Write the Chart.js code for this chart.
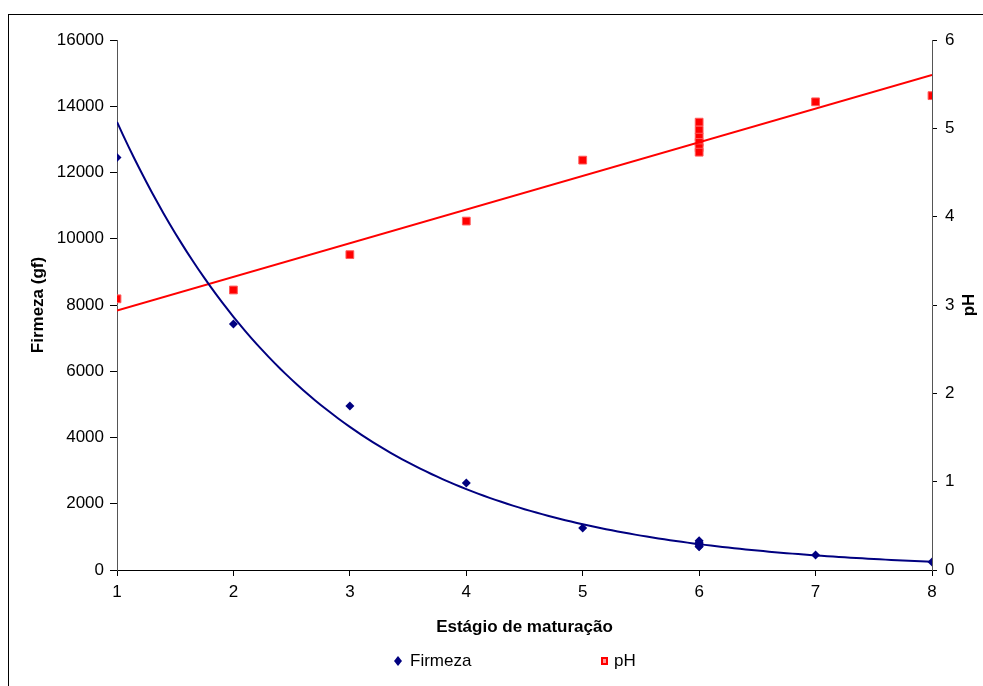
<!DOCTYPE html>
<html lang="pt">
<head>
    <meta charset="UTF-8">
    <title>Firmeza e pH por estágio de maturação</title>
    <script src="https://cdn.jsdelivr.net/npm/chart.js"></script>
    <style>
        html, body {
            margin: 0;
            padding: 0;
            background: #fff;
            overflow: hidden;
        }
        .frame {
            position: absolute;
            left: 8px;
            top: 14px;
            width: 1100px;
            height: 800px;
            border: 1px solid #000;
        }
        #chart {
            position: absolute;
            left: 0;
            top: 0;
        }
    </style>
</head>
<body>
    <div class="frame"></div>
    <canvas id="chart" width="983" height="686"></canvas>

    <script>
        // Measured samples per ripening stage
        const estagio = [1, 2, 3, 4, 5, 6, 6, 6, 6, 6, 6, 7, 8];
        const firmeza = [12450, 7430, 4950, 2630, 1270, 880, 840, 800, 760, 720, 700, 450, 240];
        const ph = [3.07, 3.17, 3.57, 3.95, 4.64, 5.07, 4.98, 4.90, 4.84, 4.78, 4.73, 5.30, 5.37];

        const xTicks = [1, 2, 3, 4, 5, 6, 7, 8];
        const firmezaTicks = [0, 2000, 4000, 6000, 8000, 10000, 12000, 14000, 16000];
        const phTicks = [0, 1, 2, 3, 4, 5, 6];

        const NAVY = '#000080';
        const RED = '#ff0000';
        const FONT = '"Liberation Sans", Arial, sans-serif';

        // least squares fit y = a + b*x
        function linFit(xs, ys) {
            const n = xs.length;
            const mx = xs.reduce((s, v) => s + v, 0) / n;
            const my = ys.reduce((s, v) => s + v, 0) / n;
            let sxy = 0, sxx = 0;
            for (let i = 0; i < n; i++) {
                sxy += (xs[i] - mx) * (ys[i] - my);
                sxx += (xs[i] - mx) * (xs[i] - mx);
            }
            const b = sxy / sxx;
            return { a: my - b * mx, b: b };
        }

        // trendlines: exponential for firmeza, linear for pH
        const expFit = linFit(estagio, firmeza.map(v => Math.log(v)));
        const phFit = linFit(estagio, ph);

        const xMin = xTicks[0];
        const xMax = xTicks[xTicks.length - 1];
        const firmezaTrend = [];
        for (let i = 0; i <= 140; i++) {
            const x = xMin + (xMax - xMin) * i / 140;
            firmezaTrend.push({ x: x, y: Math.exp(expFit.a + expFit.b * x) });
        }
        const phTrend = [
            { x: xMin, y: phFit.a + phFit.b * xMin },
            { x: xMax, y: phFit.a + phFit.b * xMax }
        ];

        const toPoints = (ys) => estagio.map((x, i) => ({ x: x, y: ys[i] }));

        // axis titles and legend drawn straight on the canvas
        const labelsPlugin = {
            id: 'labelsPlugin',
            afterDraw(chart) {
                const ctx = chart.ctx;
                const area = chart.chartArea;
                const midY = (area.top + area.bottom) / 2;
                ctx.save();
                ctx.fillStyle = '#000';
                ctx.textBaseline = 'middle';
                ctx.font = 'bold 17px ' + FONT;

                ctx.textAlign = 'center';
                ctx.fillText('Estágio de maturação', (area.left + area.right) / 2, 627);

                ctx.save();
                ctx.translate(38, midY);
                ctx.rotate(-Math.PI / 2);
                ctx.fillText('Firmeza (gf)', 0, 0);
                ctx.restore();

                ctx.save();
                ctx.translate(969, midY);
                ctx.rotate(-Math.PI / 2);
                ctx.fillText('pH', 0, 0);
                ctx.restore();

                // legend
                const ly = 661;
                ctx.font = '17px ' + FONT;
                ctx.textAlign = 'left';
                ctx.fillStyle = NAVY;
                ctx.beginPath();
                ctx.moveTo(398, ly - 5);
                ctx.lineTo(402, ly);
                ctx.lineTo(398, ly + 5);
                ctx.lineTo(394, ly);
                ctx.closePath();
                ctx.fill();
                ctx.fillStyle = '#000';
                ctx.fillText('Firmeza', 410, ly);

                ctx.fillStyle = RED;
                ctx.fillRect(601, ly - 4, 7, 8);
                ctx.fillStyle = '#ff9a9a';
                ctx.fillRect(603, ly - 2, 3, 4);
                ctx.fillStyle = '#000';
                ctx.fillText('pH', 614, ly);
                ctx.restore();
            }
        };

        const tickFont = { family: FONT, size: 17 };
        const plain = (v) => String(v);

        new Chart(document.getElementById('chart'), {
            type: 'scatter',
            data: {
                datasets: [
                    {
                        label: 'Firmeza trend',
                        data: firmezaTrend,
                        showLine: true,
                        borderColor: NAVY,
                        borderWidth: 2,
                        pointRadius: 0,
                        yAxisID: 'y'
                    },
                    {
                        label: 'pH trend',
                        data: phTrend,
                        showLine: true,
                        borderColor: RED,
                        borderWidth: 2,
                        pointRadius: 0,
                        yAxisID: 'y1'
                    },
                    {
                        label: 'Firmeza',
                        data: toPoints(firmeza),
                        pointStyle: 'rectRot',
                        pointRadius: 4.5,
                        backgroundColor: NAVY,
                        borderColor: NAVY,
                        borderWidth: 0,
                        yAxisID: 'y'
                    },
                    {
                        label: 'pH',
                        data: toPoints(ph),
                        pointStyle: 'rect',
                        pointRadius: 5.5,
                        backgroundColor: RED,
                        borderColor: 'rgba(255, 90, 90, 1)',
                        borderWidth: 1,
                        yAxisID: 'y1'
                    }
                ]
            },
            options: {
                responsive: false,
                animation: false,
                layout: { padding: { top: 40, left: 0, right: 0, bottom: 0 } },
                plugins: {
                    legend: { display: false },
                    tooltip: { enabled: false }
                },
                scales: {
                    x: {
                        type: 'linear',
                        min: xMin,
                        max: xMax,
                        afterBuildTicks: (scale) => { scale.ticks = xTicks.map(v => ({ value: v })); },
                        afterFit: (scale) => { scale.height = 116; },
                        grid: { drawOnChartArea: false, tickLength: 6, color: '#000' },
                        border: { color: '#000', width: 1 },
                        ticks: { color: '#000', font: tickFont, padding: 6, maxRotation: 0, callback: plain }
                    },
                    y: {
                        position: 'left',
                        min: 0,
                        max: 16000,
                        afterBuildTicks: (scale) => { scale.ticks = firmezaTicks.map(v => ({ value: v })); },
                        afterFit: (scale) => { scale.width = 117; },
                        grid: { drawOnChartArea: false, tickLength: 7, color: '#000' },
                        border: { color: '#555', width: 1 },
                        ticks: { color: '#000', font: tickFont, padding: 6, callback: plain }
                    },
                    y1: {
                        position: 'right',
                        min: 0,
                        max: 6,
                        afterBuildTicks: (scale) => { scale.ticks = phTicks.map(v => ({ value: v })); },
                        afterFit: (scale) => { scale.width = 51; },
                        grid: { drawOnChartArea: false, tickLength: 5, color: '#000' },
                        border: { color: '#555', width: 1 },
                        ticks: { color: '#000', font: tickFont, padding: 8, callback: plain }
                    }
                }
            },
            plugins: [labelsPlugin]
        });
    </script>
</body>
</html>
